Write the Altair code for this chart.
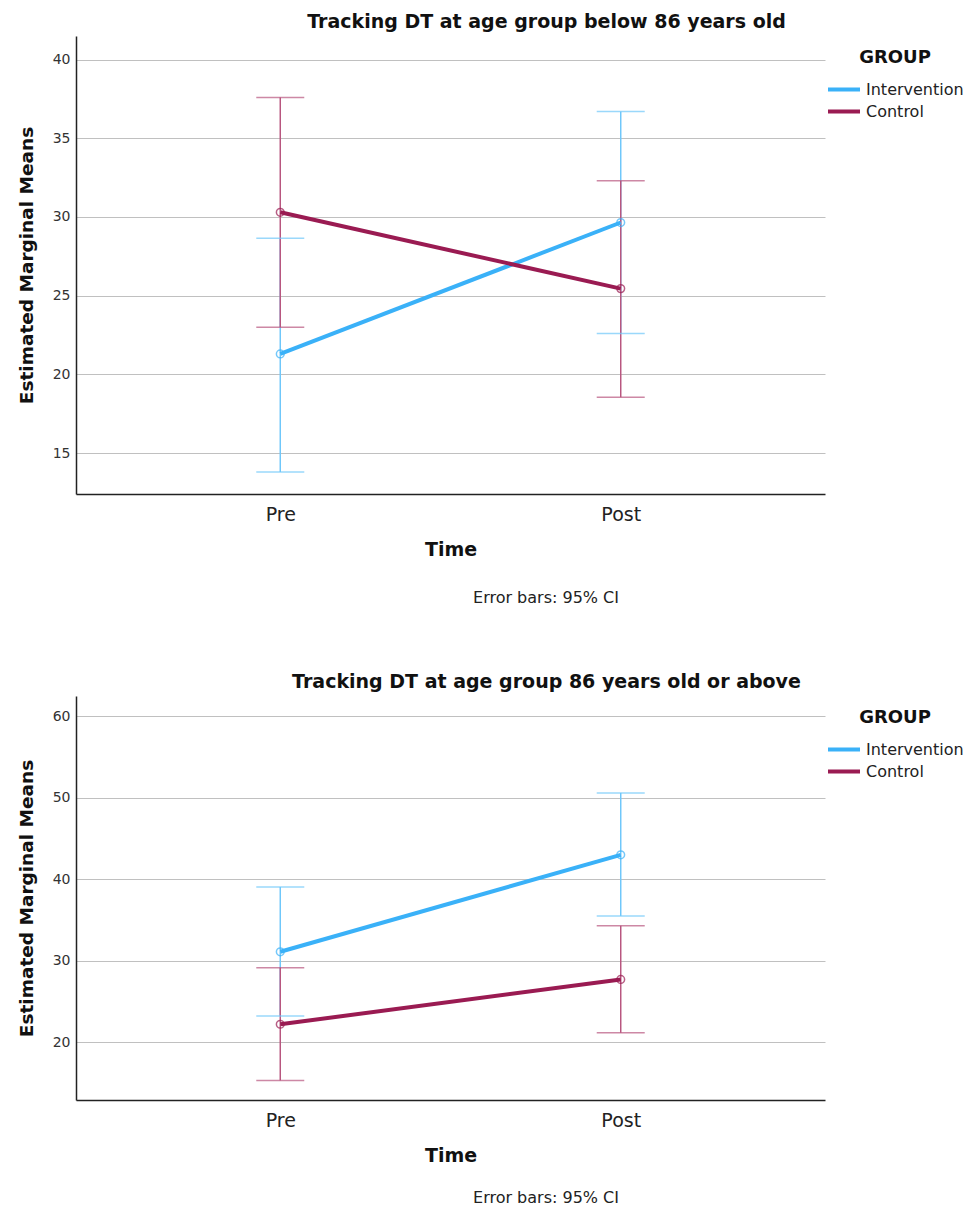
import altair as alt
import pandas as pd

times = ["Pre", "Post"]
groups = ["Intervention", "Control"]

# Top panel: age group below 86 years old
top_int_mean = [21.3, 29.65]
top_int_low = [13.8, 22.6]
top_int_high = [28.65, 36.7]
top_ctl_mean = [30.3, 25.45]
top_ctl_low = [23.0, 18.55]
top_ctl_high = [37.6, 32.3]

# Bottom panel: age group 86 years old or above
bot_int_mean = [31.1, 43.0]
bot_int_low = [23.2, 35.5]
bot_int_high = [39.05, 50.6]
bot_ctl_mean = [22.2, 27.7]
bot_ctl_low = [15.3, 21.15]
bot_ctl_high = [29.15, 34.3]

top_ticks = [15, 20, 25, 30, 35, 40]
bot_ticks = [20, 30, 40, 50, 60]

colors = ["#3AB1F8", "#9A1B52"]
light_colors = ["#6FC7FA", "#B8567F"]
FONT = "DejaVu Sans"
CAPTION = "Error bars: 95% CI"


def make_df(im, il, ih, cm, cl, ch):
    rows = []
    for g, m, lo, hi in [("Intervention", im, il, ih), ("Control", cm, cl, ch)]:
        for i, t in enumerate(times):
            rows.append({"Time": t, "Group": g, "Mean": m[i], "Low": lo[i], "High": hi[i]})
    return pd.DataFrame(rows)


def panel(df, title, domain, ticks, height, caption_gap):
    width = 749
    xenc = alt.X(
        "Time:N",
        sort=times,
        scale=alt.Scale(type="point", padding=0.6),
        axis=alt.Axis(
            title="Time", labelAngle=0, labelFontSize=19, labelColor="#222222",
            labelFont=FONT, titleFont=FONT, titleFontSize=19, titleFontWeight="bold",
            titleColor="#111111", ticks=False, grid=False, domainColor="#222222",
            domainWidth=1.5, labelPadding=11, titlePadding=16,
        ),
    )
    yscale = alt.Scale(domain=domain, nice=False, zero=False)
    yaxis = alt.Axis(
        title="Estimated Marginal Means", values=ticks, grid=True,
        gridColor="#c0c0c0", gridWidth=1, ticks=False, domainColor="#222222",
        domainWidth=1.5, labelFontSize=14, labelColor="#333333", labelFont=FONT,
        labelPadding=6, titleFont=FONT, titleFontSize=18.5, titleFontWeight="bold",
        titleColor="#111111", titlePadding=16,
    )
    legend = alt.Legend(
        title="GROUP", orient="none", legendX=750, legendY=13,
        symbolType="stroke", symbolSize=1024, symbolStrokeWidth=4, symbolOpacity=1,
        clipHeight=17, titleFont=FONT, titleFontSize=18, titleFontWeight="bold",
        titleColor="#111111", titleAnchor="middle", titlePadding=14,
        labelFont=FONT, labelFontSize=16, labelColor="#222222",
        labelOffset=4, rowPadding=5, padding=0,
    )
    cenc = alt.Color(
        "Group:N", scale=alt.Scale(domain=groups, range=colors),
        sort=groups, legend=legend, title="GROUP",
    )
    cenc_light = alt.Color(
        "Group:N", scale=alt.Scale(domain=groups, range=light_colors),
        sort=groups, legend=None,
    )

    def yenc(field):
        return alt.Y(field, scale=yscale, axis=yaxis, title="Estimated Marginal Means")

    base = alt.Chart(df)

    rules = base.mark_rule(strokeWidth=1.5).encode(
        x=xenc, y=yenc("Low:Q"), y2="High:Q", color=cenc_light,
    )
    cap_lo = base.mark_tick(size=48, thickness=1.5).encode(
        x=xenc, y=yenc("Low:Q"), color=cenc_light,
    )
    cap_hi = base.mark_tick(size=48, thickness=1.5).encode(
        x=xenc, y=yenc("High:Q"), color=cenc_light,
    )
    err = alt.layer(rules, cap_lo, cap_hi)

    lines = base.mark_line(strokeWidth=4).encode(
        x=xenc, y=yenc("Mean:Q"), color=cenc,
    )
    points = base.mark_point(filled=False, size=60, strokeWidth=1.5, opacity=0.7).encode(
        x=xenc, y=yenc("Mean:Q"), color=cenc,
    )
    main = alt.layer(lines, points)

    caption = alt.Chart(pd.DataFrame({"label": [CAPTION]})).mark_text(
        font=FONT, fontSize=16, color="#222222", align="center", baseline="middle"
    ).encode(
        text="label:N",
        x=alt.value(470),
        y=alt.value(height + caption_gap),
    )
    return alt.layer(err, main, caption).resolve_scale(color="independent").properties(
        width=width,
        height=height,
        title=alt.TitleParams(
            text=title, font=FONT, fontSize=19, fontWeight="bold", color="#111111",
            anchor="middle", frame="group", dx=96, offset=4,
        ),
    )


top_df = make_df(top_int_mean, top_int_low, top_int_high, top_ctl_mean, top_ctl_low, top_ctl_high)
bot_df = make_df(bot_int_mean, bot_int_low, bot_int_high, bot_ctl_mean, bot_ctl_low, bot_ctl_high)

top = panel(top_df, "Tracking DT at age group below 86 years old", [12.4, 41.5], top_ticks, 458, 104)
bot = panel(bot_df, "Tracking DT at age group 86 years old or above", [12.9, 62.5], bot_ticks, 404, 98)

chart = (
    alt.vconcat(top, bot, spacing=67)
    .resolve_scale(color="independent")
    .resolve_legend(color="independent")
    .configure_view(stroke=None)
    .properties(padding={"left": 9, "top": 5, "right": 5, "bottom": 5})
)

chart.save("out.html", embed_options={"renderer": "svg", "actions": False})
